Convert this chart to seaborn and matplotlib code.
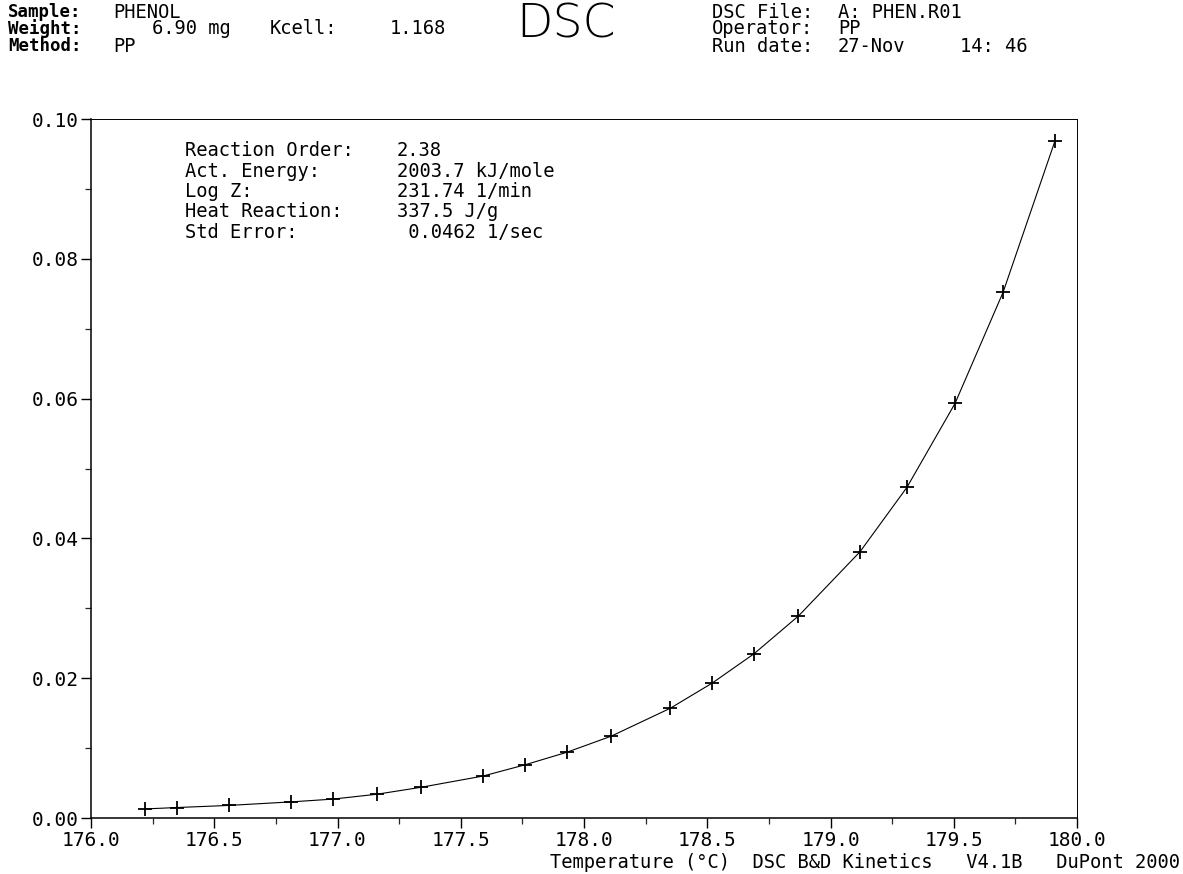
import matplotlib
matplotlib.use("Agg")
import matplotlib.pyplot as plt
import seaborn as sns
import numpy as np
import pandas as pd
from matplotlib.ticker import MultipleLocator, FormatStrFormatter

# Data
temperature = [176.22, 176.35, 176.56, 176.81, 176.98, 177.16, 177.34, 177.59,
               177.76, 177.93, 178.11, 178.35, 178.52, 178.69, 178.87, 179.12,
               179.31, 179.505, 179.70, 179.91]
rate = [0.0013, 0.0015, 0.0018, 0.0023, 0.0027, 0.0034, 0.0044, 0.0060,
        0.0076, 0.0094, 0.0117, 0.0157, 0.0193, 0.0235, 0.0289, 0.0381,
        0.0473, 0.0593, 0.0752, 0.0968]

sample_label, sample_value = "Sample:", "PHENOL"
weight_label, weight_value = "Weight:", "6.90 mg"
kcell_label, kcell_value = "Kcell:", "1.168"
method_label, method_value = "Method:", "PP"
file_label, file_value = "DSC File:", "A: PHEN.R01"
operator_label, operator_value = "Operator:", "PP"
date_label, date_value, time_value = "Run date:", "27-Nov", "14: 46"
results_labels = ["Reaction Order:", "Act. Energy:", "Log Z:", "Heat Reaction:", "Std Error:"]
results_values = ["2.38", "2003.7 kJ/mole", "231.74 1/min", "337.5 J/g", " 0.0462 1/sec"]
xlabel_text = "Temperature (°C)  DSC B&D Kinetics   V4.1B   DuPont 2000"

sns.set_theme(style="white")
plt.rcParams['font.family'] = ['DejaVu Sans Mono', 'DejaVu Sans']
plt.rcParams['text.color'] = 'black'

df = pd.DataFrame({"T": temperature, "r": rate})

W, H = 1183, 874
fig = plt.figure(figsize=(W / 100, H / 100), dpi=100)
ax = fig.add_axes([91/W, 1-818/H, (1077-91)/W, (818-119)/H])

sns.lineplot(data=df, x="T", y="r", ax=ax, color="black", linewidth=0.8,
             marker="+", markersize=10, markeredgewidth=1.3, markeredgecolor="black")

ax.set_xlim(176.0, 180.0)
ax.set_ylim(0.0, 0.10)
ax.xaxis.set_major_locator(MultipleLocator(0.5))
ax.xaxis.set_minor_locator(MultipleLocator(0.25))
ax.yaxis.set_major_locator(MultipleLocator(0.02))
ax.yaxis.set_minor_locator(MultipleLocator(0.01))
ax.xaxis.set_major_formatter(FormatStrFormatter("%.1f"))
ax.yaxis.set_major_formatter(FormatStrFormatter("%.2f"))
ax.tick_params(axis="both", which="major", direction="out", length=7, width=1.0,
               labelsize=14, colors="black", pad=2, bottom=True, left=True)
ax.tick_params(axis="both", which="minor", direction="out", length=4, width=0.9,
               bottom=True, left=True)
for s in ax.spines.values():
    s.set_color("black")
    s.set_linewidth(0.7)
ax.spines["left"].set_linewidth(1.1)
ax.spines["bottom"].set_linewidth(1.1)
ax.set_xlabel("")
ax.set_ylabel("")

fs = 13.5

def put(x, y, s, **kw):
    fig.text(x / W, 1 - y / H, s, fontsize=kw.pop("fontsize", fs), va="center",
             ha=kw.pop("ha", "left"), color="black", **kw)

# header left
put(8, 12, sample_label, fontweight="bold", fontsize=12.5)
put(113, 12, sample_value)
put(8, 29, weight_label, fontweight="bold", fontsize=12.5)
put(152, 29, weight_value)
put(270, 29, kcell_label)
put(390, 29, kcell_value)
put(8, 46, method_label, fontweight="bold", fontsize=12.5)
put(113, 46, method_value)
# header right
put(712, 12, file_label)
put(838, 12, file_value)
put(712, 29, operator_label)
put(838, 29, operator_value)
put(712, 46, date_label)
put(838, 46, date_value)
put(960, 46, time_value)
# title
fig.text(566 / W, 1 - 24 / H, "DSC", fontsize=34, fontweight="light", ha="center",
         va="center", family="DejaVu Sans", color="black")

# results block
for i, (lab, val) in enumerate(zip(results_labels, results_values)):
    y = 151 + i * 20.3
    put(185, y, lab)
    put(397, y, val)

put(1180, 862, xlabel_text, ha="right")

fig.savefig("out.png", dpi=100)
